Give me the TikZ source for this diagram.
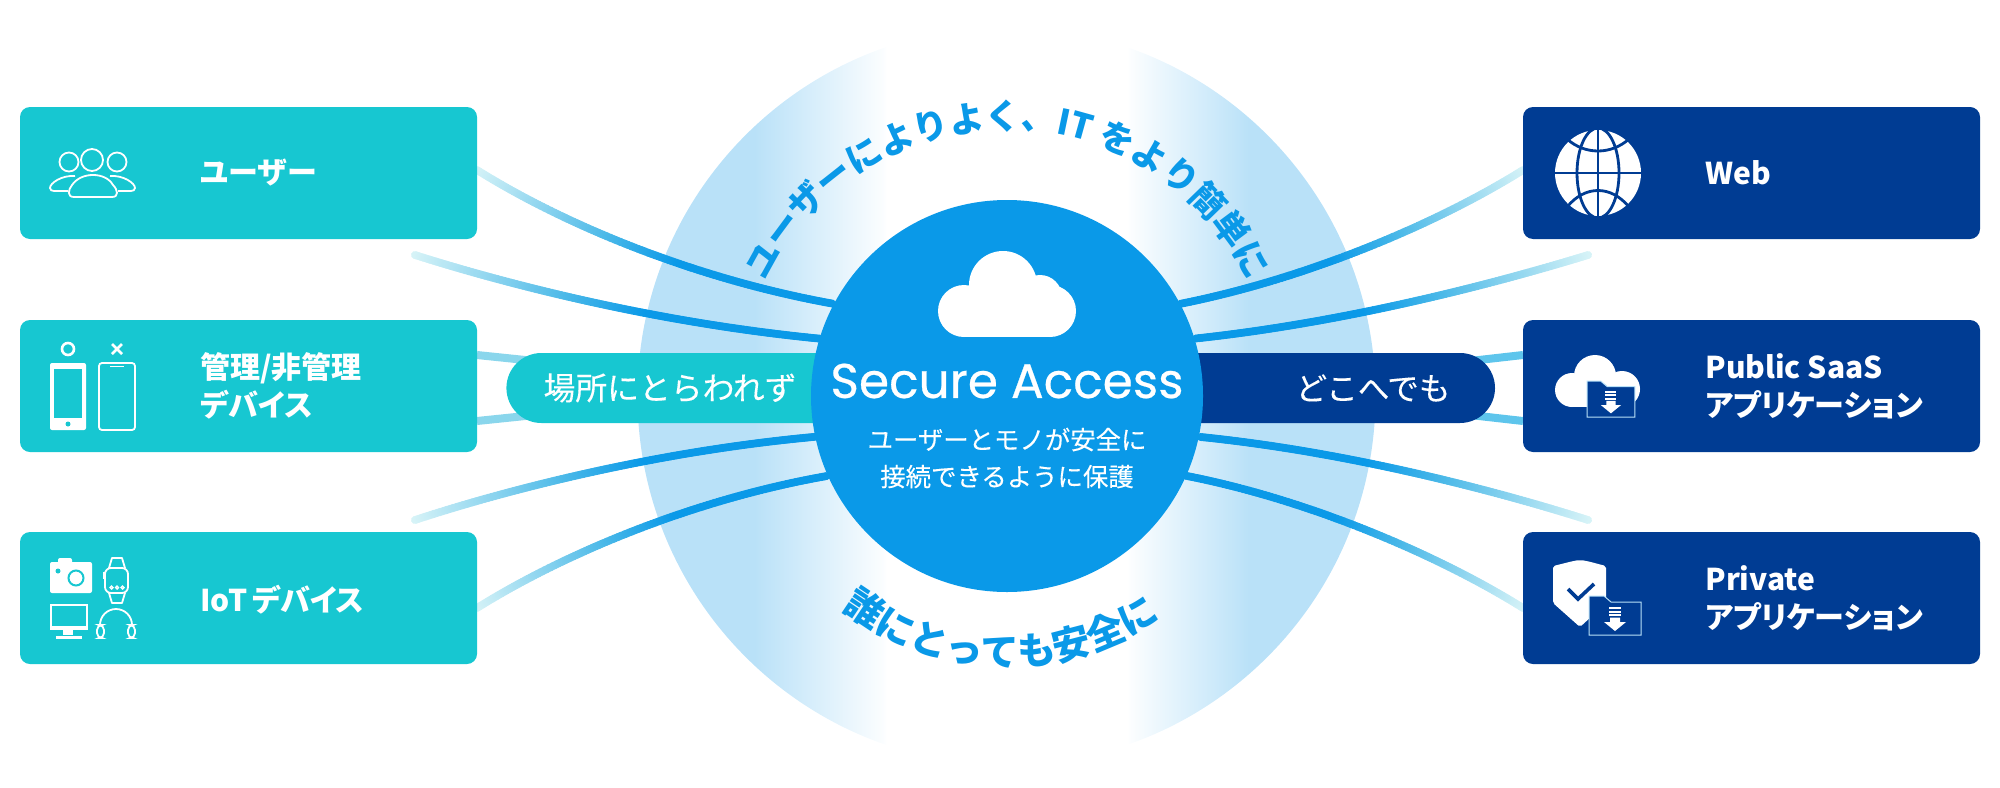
\documentclass[tikz,border=0pt]{standalone}
\usepackage{fontspec}
\setmainfont{Noto Sans CJK JP}
\newfontfamily\hubfont{Poppins}[FakeBold=0.5]
\newfontfamily\labelfont{Noto Sans CJK JP}[RawFeature=+palt]
\newfontfamily\softfont{Noto Sans CJK JP}[FakeBold=0.2]
\usetikzlibrary{calc}
\usetikzlibrary{positioning}
\usetikzlibrary{shapes.misc}
\usetikzlibrary{decorations.markings}
\usetikzlibrary{decorations.text}
\definecolor{tealbox}{HTML}{17C7D1}
\definecolor{navybox}{HTML}{003C93}
\definecolor{hubblue}{HTML}{0A99E8}
\definecolor{discblue}{HTML}{B9E1F8}
\definecolor{strandlight}{HTML}{D6F3F7}
\definecolor{strandmid}{HTML}{4CB9E8}
\definecolor{stubleft}{HTML}{8AD6EC}
\definecolor{stubright}{HTML}{5EC5EC}
\definecolor{folderline}{HTML}{B9E1F8}
\pgfdeclarelayer{back}
\pgfsetlayers{back,main}
\pgfdeclarehorizontalshading{discshade}{100bp}{
	color(0bp)=(discblue); color(32.9bp)=(discblue);
	color(41.7bp)=(discblue!5!white); color(41.9bp)=(white);
	color(58.2bp)=(white); color(58.4bp)=(discblue!5!white);
	color(66.5bp)=(discblue); color(100bp)=(discblue)}
\newcommand{\ArcFont}{\bfseries\fontsize{17.5}{20}\selectfont}
\newcommand{\LowArcFont}{\bfseries\fontsize{19}{22}\selectfont}
% small folder with a download arrow, #1 and #2 are its lower left corner, #3 its size
\newcommand{\DrawFolder}[3]{
	\begin{scope}[shift={(#1,#2)}, scale=#3]
		\filldraw[fill=navybox,draw=folderline,line width=0.5pt] (0,0) -- (0,-39) -- (15,-39) -- (22,-33) -- (52,-33) -- (52,0) -- cycle;
		\fill[white] (20,-28) rectangle (32,-26);
		\fill[white] (20,-24.5) rectangle (32,-22.5);
		\fill[white] (20,-21) rectangle (32,-19);
		\fill[white] (21,-17.5) -- (31,-17.5) -- (31,-13) -- (37,-13) -- (26,-4) -- (15,-13) -- (21,-13) -- cycle;
	\end{scope}
}
\tikzset{
	leftbox/.style={rectangle, fill=tealbox, rounded corners=5pt, minimum width=228.5pt, minimum height=66pt, inner sep=0pt},
	rightbox/.style={leftbox, fill=navybox},
	boxlabel/.style={anchor=west, text=white, align=left, inner sep=0pt, font=\labelfont\bfseries\fontsize{15}{19}\selectfont},
	pill/.style={rounded rectangle, minimum height=35pt, inner sep=0pt, text=white, font=\softfont\fontsize{15.9}{18}\selectfont},
	pilltext/.style={text=white, inner sep=0pt, font=\softfont\fontsize{15.8}{18}\selectfont},
	iconline/.style={draw=white, line width=0.9pt},
	strand/.style={decorate, decoration={markings, mark=between positions 0 and 1 step 0.75pt with {
		\pgfmathsetmacro\StrandPos{\pgfkeysvalueof{/pgf/decoration/mark info/distance from start}/\pgfdecoratedpathlength}
		\pgfmathtruncatemacro\StrandLow{min(100,100*\StrandPos/0.38)}
		\pgfmathtruncatemacro\StrandHigh{max(0,min(100,100*(\StrandPos-0.38)/0.2))}
		\ifnum\StrandHigh>0
			\fill[hubblue!\StrandHigh!strandmid] (0,0) circle (2pt);
		\else
			\fill[strandmid!\StrandLow!strandlight] (0,0) circle (2pt);
		\fi
	}}},
	stub/.style={line width=4pt},
}
\begin{document}
\begin{tikzpicture}[x=0.5pt, y=-0.5pt]
	\useasboundingbox (0,0) rectangle (2000,787);
	% boxes on the left
	\node[leftbox] (userBox) at (248.5,173) {};
	\node[leftbox] (deviceBox) at (248.5,386) {};
	\node[leftbox] (iotBox) at (248.5,598) {};
	\node[boxlabel] (userLabel) at (200,173) {ユーザー};
	\node[boxlabel] (deviceLabel) at (200,386) {管理/非管理\\デバイス};
	\node[boxlabel] (iotLabel) at (200,600) {IoT\,デバイス};
	% boxes on the right
	\node[rightbox] (webBox) at (1751.5,173) {};
	\node[rightbox] (saasBox) at (1751.5,386) {};
	\node[rightbox] (privateBox) at (1751.5,598) {};
	\node[boxlabel] (webLabel) at (1705,173) {Web};
	\node[boxlabel] (saasLabel) at (1705,386) {Public SaaS\\アプリケーション};
	\node[boxlabel] (privateLabel) at (1705,598) {Private\\アプリケーション};
	% the two bands
	\node[pill, fill=tealbox, rounded rectangle right arc=none, minimum width=162pt] (anywhereBand) at (670,388) {場所にとらわれず};
	\node[pill, fill=navybox, rounded rectangle left arc=none, minimum width=152.5pt] (everywhereBand) at (1342.5,388) {};
	\node[pilltext] (everywhereLabel) at (1373,388) {どこへでも};
	% center circle
	\node[circle, fill=hubblue, minimum size=196pt, inner sep=0pt] (hub) at (1007,396) {};
	\node[text=white, inner sep=0pt, font=\hubfont\fontsize{24.3}{26}\selectfont] (hubTitle) at (1007,381) {Secure Access};
	\node[text=white, inner sep=0pt, align=center, font=\softfont\fontsize{12.7}{18.5}\selectfont] (hubText) at (1007,458) {ユーザーとモノが安全に\\接続できるように保護};
	% cloud in the center circle
	\fill[white] (964,311) circle (26);
	\fill[white] (1003,285) circle (34);
	\fill[white] (1040,297) circle (22);
	\fill[white] (1050,311) circle (26);
	\fill[white] (964,300) rectangle (1050,337);
	%%%%%%%%%%%%%%%%%%%%%%%%%%%%%%%%%%%%%%%%%%%%%%%%%%%%%%%%%%
	% text on the arcs
	\path[decorate, decoration={text along path, text={|\ArcFont|ユーザーによりよく、IT をより簡単に}, text color=hubblue, text align=center}]
		([shift={(-155:267)}]hub.center) arc (-155:-25:267);
	\path[decorate, decoration={text along path, text={|\LowArcFont|誰にとっても安全に}, text color=hubblue, text align=center}]
		([shift={(-230:270)}]hub.center) arc (-230:-307:270);
	%%%%%%%%%%%%%%%%%%%%%%%%%%%%%%%%%%%%%%%%%%%%%%%%%%%%%%%%%%
	% free ends and box ends of the lines
	\coordinate (userOut) at (477,170);
	\coordinate (leftUpper) at (415,255);
	\coordinate (leftLower) at (415,520);
	\coordinate (iotOut) at (477,608);
	\coordinate (webOut) at (1523,170);
	\coordinate (rightUpper) at (1588,255);
	\coordinate (rightLower) at (1588,520);
	\coordinate (privateOut) at (1523,608);
	\coordinate (deviceOutA) at (477,355);
	\coordinate (deviceOutB) at (477,421);
	\coordinate (saasOutA) at (1523,355);
	\coordinate (saasOutB) at (1523,421);
	\coordinate (anywhereA) at (535,361);
	\coordinate (anywhereB) at (535,415);
	\coordinate (everywhereA) at (1470,361);
	\coordinate (everywhereB) at (1470,415);
	\begin{pgfonlayer}{back}
		% big circle behind everything
		\node[circle, shading=discshade, minimum size=369pt, inner sep=0pt] (disc) at (1006.5,396) {};
		% lines to the center circle
		\foreach \From/\Ax/\Ay/\Bx/\By/\To in {
			userOut/560/222/690/278/152, leftUpper/500/282/650/322/163,
			leftLower/500/492/650/452/192, iotOut/560/556/690/500/204,
			webOut/1440/222/1310/278/28, rightUpper/1500/282/1350/322/17,
			rightLower/1500/492/1350/452/348, privateOut/1440/556/1310/500/336}{
			\path[strand] (\From) .. controls (\Ax,\Ay) and (\Bx,\By) .. (hub.\To);
		}
		% short pieces between boxes and bands
		\draw[stub, stubleft] (deviceOutA) -- (anywhereA);
		\draw[stub, stubleft] (deviceOutB) -- (anywhereB);
		\draw[stub, stubright] (saasOutA) -- (everywhereA);
		\draw[stub, stubright] (saasOutB) -- (everywhereB);
	\end{pgfonlayer}
	%%%%%%%%%%%%%%%%%%%%%%%%%%%%%%%%%%%%%%%%%%%%%%%%%%%%%%%%%%
	% user icon
	\draw[iconline] (92,160) circle (11);
	\draw[iconline] (69,162) circle (9.5);
	\draw[iconline] (117,162) circle (9.5);
	\draw[iconline] (74,197) .. controls (67,197) and (68,190) .. (72,185) .. controls (77,178) and (85,175) .. (93,175) .. controls (101,175) and (109,178) .. (113,185) .. controls (118,190) and (119,197) .. (112,197) -- cycle;
	\draw[iconline] (75,176) .. controls (62,175) and (50,183) .. (50,188) .. controls (50,190) and (52,191) .. (54,191) -- (68,191);
	\draw[iconline] (110,176) .. controls (123,175) and (135,183) .. (135,188) .. controls (135,190) and (133,191) .. (131,191) -- (118,191);
	% phone icons
	\draw[white, line width=1.3pt] (68,349) circle (6);
	\draw[white, line width=1.3pt] (112,344) -- (122,354) (122,344) -- (112,354);
	\fill[white, rounded corners=1pt] (50,363) rectangle (86,430);
	\fill[tealbox] (54,369) rectangle (82,418);
	\fill[tealbox] (68,424) circle (2.5);
	\draw[iconline, rounded corners=1.5pt] (99,363) rectangle (135,430);
	\draw[iconline] (110,366.5) -- (124,366.5);
	% camera
	\fill[white, rounded corners=1pt] (50,562) rectangle (92,593);
	\fill[white, rounded corners=1pt] (58,558) rectangle (72,566);
	\fill[white] (76,578) circle (10);
	\draw[tealbox, line width=1pt] (76,578) circle (7.5);
	\fill[tealbox] (58,571) circle (2.5);
	% watch
	\draw[iconline, rounded corners=3pt] (105,568) rectangle (128,593);
	\draw[iconline, line join=round] (109,568) -- (112,558) -- (122,558) -- (125,568);
	\draw[iconline, line join=round] (109,593) -- (112,603) -- (122,603) -- (125,593);
	\draw[white, line width=0.7pt] (111.5,587.5) circle (1.5) (117,587.5) circle (1.5) (122.5,587.5) circle (1.5);
	\fill[white] (103,572) rectangle (105,579);
	% monitor
	\draw[white, line width=1.2pt] (51,605) rectangle (87,629);
	\fill[white] (50,626) rectangle (88,630);
	\fill[white] (63,630) rectangle (73,635);
	\fill[white] (56,636) rectangle (82,639);
	% headphones
	\draw[iconline] (100,625) arc (180:360:16);
	\draw[iconline, rounded corners=2.5pt] (97,625) rectangle (104,638);
	\draw[iconline, rounded corners=2.5pt] (128,625) rectangle (135,638);
	%%%%%%%%%%%%%%%%%%%%%%%%%%%%%%%%%%%%%%%%%%%%%%%%%%%%%%%%%%
	% globe
	\fill[white] (1598,173) circle (43);
	\draw[navybox, line width=1.4pt] (1553,173) -- (1643,173) (1598,128) -- (1598,218);
	\draw[navybox, line width=1.4pt] (1598,173) ellipse (21 and 45);
	\draw[navybox, line width=1.4pt] (1567,139) .. controls (1585,155) and (1611,155) .. (1629,139);
	\draw[navybox, line width=1.4pt] (1567,207) .. controls (1585,185) and (1611,185) .. (1629,207);
	% cloud with folder
	\fill[white] (1572,390) circle (17);
	\fill[white] (1595,376) circle (21);
	\fill[white] (1622,389) circle (18);
	\fill[white] (1572,385) rectangle (1622,407);
	\DrawFolder{1587}{417}{0.92}
	% shield with folder
	\fill[white, rounded corners=1pt] (1553,566) .. controls (1562,564) and (1572,561) .. (1580,560) .. controls (1588,561) and (1598,564) .. (1606,566) -- (1606,603) -- (1580,627) -- (1553,603) -- cycle;
	\draw[navybox, line width=1.8pt] (1568,589) -- (1578,599) -- (1594,584);
	\DrawFolder{1589}{635}{1}
\end{tikzpicture}
\end{document}
